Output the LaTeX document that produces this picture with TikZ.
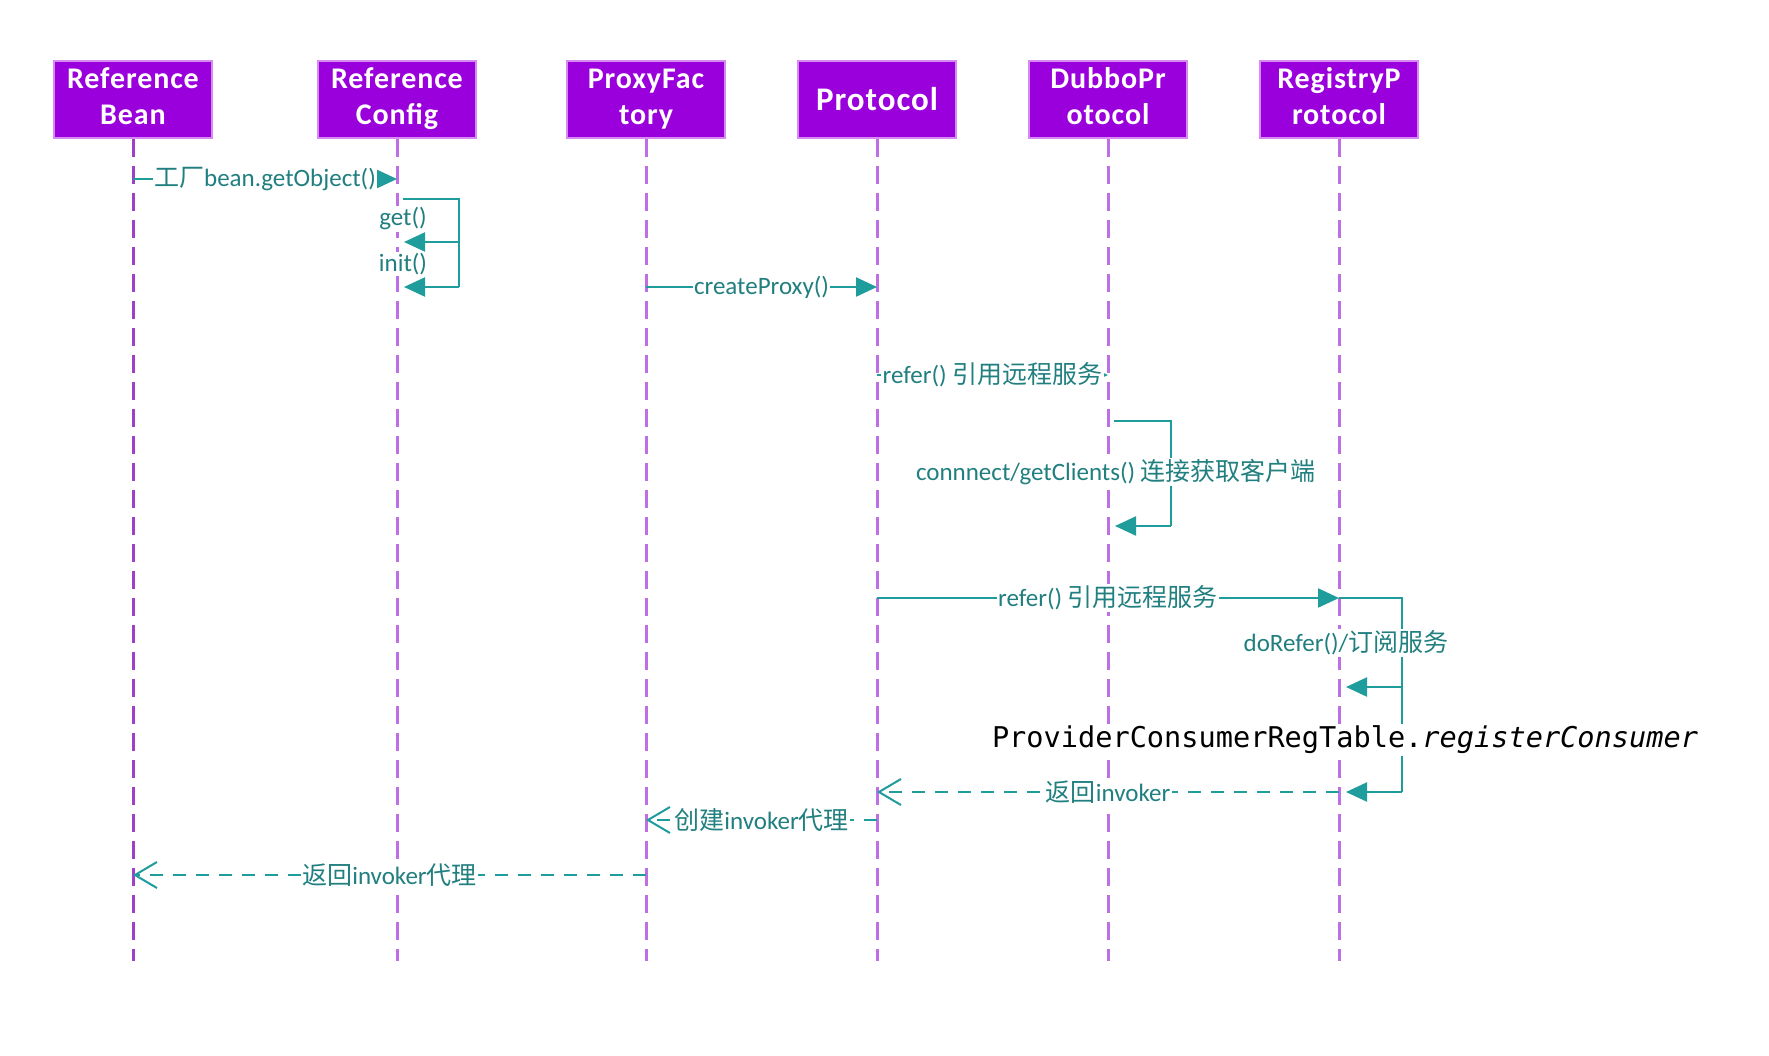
\documentclass[tikz,border=0pt]{standalone}
\usepackage{fontspec}
\setmainfont{Carlito}
\setmonofont{DejaVu Sans Mono}
\newfontfamily\cjk{Noto Sans CJK SC}
\newfontfamily\headfont[LetterSpace=3]{Carlito}
\usetikzlibrary{arrows.meta}
\definecolor{boxfill}{HTML}{9A00DC}
\definecolor{boxline}{HTML}{D58BF2}
\definecolor{life}{HTML}{BE6FE6}
\definecolor{lifedark}{HTML}{A040C8}
\definecolor{msg}{HTML}{1F9C9C}
\definecolor{msgtext}{HTML}{217F80}
\newcommand\zh[1]{{\cjk #1}}

\begin{document}
\begin{tikzpicture}[x=1pt,y=-1pt,
  actor/.style={draw=boxline, line width=1.5pt, fill=boxfill, minimum width=158pt,
    minimum height=77pt, inner sep=0pt, text=white, align=center,
    font=\headfont\bfseries\fontsize{30}{36}\selectfont},
  lifeline/.style={draw=life, line width=3pt, dash pattern=on 18pt off 9pt},
  call/.style={draw=msg, line width=2.2pt, -{Triangle[length=21pt,width=19pt]}},
  ret/.style={draw=msg, line width=2.2pt, dash pattern=on 13pt off 10pt,
    -{Straight Barb[length=22pt,width=26pt,line width=2pt]}},
  loopline/.style={draw=msg, line width=2.2pt},
  lbl/.style={fill=white, text=msgtext, inner sep=1.5pt, font=\fontsize{25}{28}\selectfont},
]
\useasboundingbox (0,0) rectangle (1769,1055);

% participants
\node[actor] (rb) at (133,99.5) {Reference\strut\\Bean\strut};
\node[actor] (rc) at (397,99.5) {Reference\strut\\Config\strut};
\node[actor] (pf) at (646,99.5) {ProxyFac\strut\\tory\strut};
\node[actor, font=\headfont\bfseries\fontsize{33}{36}\selectfont] (p) at (877,99.5) {Protocol};
\node[actor] (dp) at (1108,99.5) {DubboPr\strut\\otocol\strut};
\node[actor] (rp) at (1339,99.5) {RegistryP\strut\\rotocol\strut};

% lifeline ends
\coordinate (rbend) at (133,961);
\coordinate (rcend) at (397,961);
\coordinate (pfend) at (646,961);
\coordinate (pend) at (877,961);
\coordinate (dpend) at (1108,961);
\coordinate (rpend) at (1339,961);

\draw[lifeline, draw=lifedark] (rb.south) -- (rbend);
\draw[lifeline] (rc.south) -- (rcend);
\draw[lifeline] (pf.south) -- (pfend);
\draw[lifeline] (p.south) -- (pend);
\draw[lifeline] (dp.south) -- (dpend);
\draw[lifeline] (rp.south) -- (rpend);

% redraw boxes over lifeline tops
\node[actor] at (rb) {Reference\strut\\Bean\strut};
\node[actor] at (rc) {Reference\strut\\Config\strut};
\node[actor] at (pf) {ProxyFac\strut\\tory\strut};
\node[actor, font=\headfont\bfseries\fontsize{33}{36}\selectfont] at (p) {Protocol};
\node[actor] at (dp) {DubboPr\strut\\otocol\strut};
\node[actor] at (rp) {RegistryP\strut\\rotocol\strut};

% ReferenceBean -> ReferenceConfig
\draw[call] (rb |- 0,179) -- (rc |- 0,179)
  node[midway, lbl] {\zh{工厂}bean.getObject()};

% ReferenceConfig self calls
\coordinate (rcA) at (403,199);
\coordinate (rcB) at (459,199);
\coordinate (rcC) at (459,242);
\coordinate (rcD) at (459,287);
\coordinate (rcG) at (404,242);
\coordinate (rcI) at (404,287);
\draw[loopline] (rcA) -- (rcB) -- (rcD);
\draw[call] (rcC) -- (rcG);
\draw[call] (rcD) -- (rcI);
\node[lbl] (getl) at (403,219) {get()};
\node[lbl] (initl) at (403,264) {init()};

% ProxyFactory -> Protocol
\draw[call] (pf |- 0,287) -- (p |- 0,287) node[midway, lbl] {createProxy()};

% Protocol -> DubboProtocol
\draw[call] (p |- 0,375) -- (dp |- 0,375) node[midway, lbl] {refer() \zh{引用远程服务}};

% DubboProtocol self call
\coordinate (dpA) at (1114,421);
\coordinate (dpB) at (1171,421);
\coordinate (dpC) at (1171,526);
\coordinate (dpD) at (1115,526);
\draw[loopline] (dpA) -- (dpB) -- (dpC);
\draw[call] (dpC) -- (dpD);
\node[lbl] (dpl) at (1116,472) {connnect/getClients() \zh{连接获取客户端}};

% Protocol -> RegistryProtocol
\draw[call] (p |- 0,598) -- (rp |- 0,598) node[midway, lbl] {refer() \zh{引用远程服务}};

% RegistryProtocol self calls
\coordinate (rpA) at (1339,598);
\coordinate (rpB) at (1402,598);
\coordinate (rpC) at (1402,687);
\coordinate (rpD) at (1402,792);
\coordinate (rpG) at (1346,687);
\coordinate (rpI) at (1346,792);
\draw[loopline] (rpA) -- (rpB) -- (rpD);
\draw[call] (rpC) -- (rpG);
\draw[call] (rpD) -- (rpI);
\node[lbl] (rpl) at (1346,643) {doRefer()/\zh{订阅服务}};
\node[lbl, text=black, font=\ttfamily\fontsize{28.6}{32}\selectfont] (regl) at (1345,740)
  {ProviderConsumerRegTable.\textit{registerConsumer}};

% returns
\draw[ret] (rp |- 0,792) -- (p |- 0,792) node[midway, lbl] {\zh{返回}invoker};
\draw[ret] (p |- 0,820) -- (pf |- 0,820) node[midway, lbl] {\zh{创建}invoker\zh{代理}};
\draw[ret] (pf |- 0,875) -- (rb |- 0,875) node[midway, lbl] {\zh{返回}invoker\zh{代理}};
\end{tikzpicture}
\end{document}
